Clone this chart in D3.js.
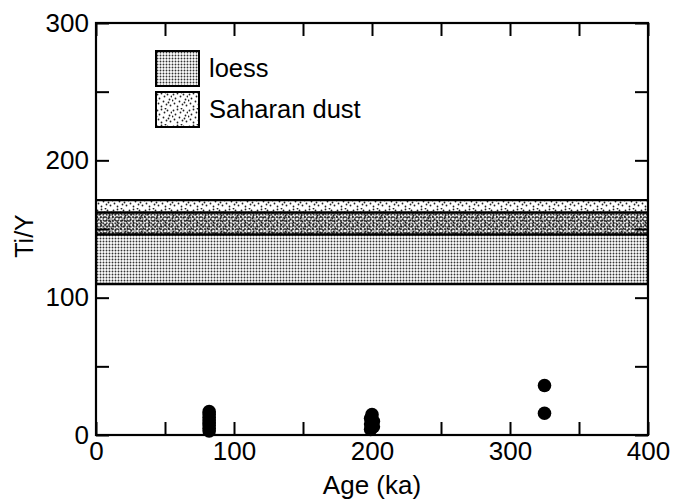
<!DOCTYPE html>
<html>
<head>
<meta charset="utf-8">
<script src="https://cdn.jsdelivr.net/npm/d3@7"></script>
<style>
  body { margin: 0; background: #fff; }
  svg { display: block; font-family: "Liberation Sans", Arial, Helvetica, sans-serif; }
</style>
</head>
<body>
<div id="chart"></div>
<script>
// ranges of Ti/Y for the two reference sources
const bandNames = ["loess", "Saharan dust"];
const bandLow = [110, 146];
const bandHigh = [162, 171];

// measured samples
const sampleAge = [82, 82, 82, 82, 82, 82, 82, 82, 199, 201, 199, 201, 199, 200, 325, 325];
const sampleTiY = [3, 5, 7, 9, 11, 13, 15, 17, 4, 6, 8, 10, 12, 14.8, 15.8, 36];

const xTicks = [0, 50, 100, 150, 200, 250, 300, 350, 400];
const yTicks = [0, 50, 100, 150, 200, 250, 300];
const xLabels = [0, 100, 200, 300, 400];
const yLabels = [0, 100, 200, 300];

const width = 686, height = 501;
const margin = { top: 23, right: 38, bottom: 66, left: 96 };

const svg = d3.select("#chart").append("svg")
    .attr("width", width)
    .attr("height", height);

const x = d3.scaleLinear().domain([0, 400]).range([margin.left, width - margin.right]);
const y = d3.scaleLinear().domain([0, 300]).range([height - margin.bottom, margin.top]);

// stipple textures
const defs = svg.append("defs");
const loessPat = defs.append("pattern")
    .attr("id", "loess")
    .attr("patternUnits", "userSpaceOnUse")
    .attr("width", 3).attr("height", 3);
loessPat.append("circle").attr("cx", 1.5).attr("cy", 1.5).attr("r", 0.95).attr("fill", "#333");

const dustDots = [[1, 2], [5, 1], [8, 4], [3, 6], [11, 2], [13, 7], [7, 9], [2, 11], [10, 12], [14, 13], [5, 14], [12, 10], [0, 8], [9, 0], [15, 4]];
const dustPat = defs.append("pattern")
    .attr("id", "dust")
    .attr("patternUnits", "userSpaceOnUse")
    .attr("width", 16).attr("height", 16);
dustPat.selectAll("circle")
    .data(dustDots)
    .join("circle")
    .attr("cx", d => d[0] + 0.5)
    .attr("cy", d => d[1] + 0.5)
    .attr("r", 0.9)
    .attr("fill", "#222");

// darker mottling where the two ranges overlap
const mixPat = defs.append("pattern")
    .attr("id", "mix")
    .attr("patternUnits", "userSpaceOnUse")
    .attr("width", 4).attr("height", 4);
mixPat.append("circle").attr("cx", 1).attr("cy", 1).attr("r", 0.9).attr("fill", "#222");
mixPat.append("circle").attr("cx", 3).attr("cy", 3).attr("r", 0.7).attr("fill", "#333");

const patterns = ["url(#loess)", "url(#dust)"];

// bands: loess first, dust laid over so the overlap reads darker
svg.selectAll(".band")
    .data(bandNames)
    .join("rect")
    .attr("class", "band")
    .attr("x", x(0))
    .attr("width", x(400) - x(0))
    .attr("y", (d, i) => y(bandHigh[i]))
    .attr("height", (d, i) => y(bandLow[i]) - y(bandHigh[i]))
    .attr("fill", (d, i) => patterns[i]);

const overlapLow = d3.max(bandLow), overlapHigh = d3.min(bandHigh);
svg.append("rect")
    .attr("x", x(0))
    .attr("width", x(400) - x(0))
    .attr("y", y(overlapHigh))
    .attr("height", y(overlapLow) - y(overlapHigh))
    .attr("fill", "url(#mix)");

// band edges
const edges = bandLow.concat(bandHigh);
svg.selectAll(".edge")
    .data(edges)
    .join("line")
    .attr("class", "edge")
    .attr("x1", x(0)).attr("x2", x(400))
    .attr("y1", d => y(d)).attr("y2", d => y(d))
    .attr("stroke", "#000")
    .attr("stroke-width", 2.4);

// axes, ticks pointing inward on all four sides
function styleAxis(g) {
    g.select(".domain").remove();
    g.selectAll(".tick line").attr("stroke", "#000").attr("stroke-width", 2);
    g.selectAll(".tick text").attr("fill", "#000").style("font-size", "26px");
}

svg.append("g")
    .attr("transform", `translate(0,${y(0)})`)
    .call(d3.axisBottom(x).tickValues(xTicks).tickSize(-13).tickPadding(7)
        .tickFormat(d => xLabels.includes(d) ? d : ""))
    .call(styleAxis);

svg.append("g")
    .attr("transform", `translate(0,${y(300)})`)
    .call(d3.axisTop(x).tickValues(xTicks).tickSize(-13).tickFormat(""))
    .call(styleAxis);

svg.append("g")
    .attr("transform", `translate(${x(0)},0)`)
    .call(d3.axisLeft(y).tickValues(yTicks).tickSize(-13).tickPadding(7)
        .tickFormat(d => yLabels.includes(d) ? d : ""))
    .call(styleAxis);

svg.append("g")
    .attr("transform", `translate(${x(400)},0)`)
    .call(d3.axisRight(y).tickValues(yTicks).tickSize(-13).tickFormat(""))
    .call(styleAxis);

// frame
svg.append("rect")
    .attr("x", x(0)).attr("y", y(300))
    .attr("width", x(400) - x(0))
    .attr("height", y(0) - y(300))
    .attr("fill", "none")
    .attr("stroke", "#000")
    .attr("stroke-width", 2.2);

// samples
svg.selectAll(".pt")
    .data(sampleAge)
    .join("circle")
    .attr("class", "pt")
    .attr("cx", d => x(d))
    .attr("cy", (d, i) => y(sampleTiY[i]))
    .attr("r", 6.8)
    .attr("fill", "#000");

// axis titles
svg.append("text")
    .attr("x", x(200))
    .attr("y", 494)
    .attr("text-anchor", "middle")
    .style("font-size", "26px")
    .text("Age (ka)");

svg.append("text")
    .attr("transform", `translate(33,236) rotate(-90)`)
    .attr("text-anchor", "middle")
    .style("font-size", "25px")
    .text("Ti/Y");

// legend
const legend = svg.append("g").attr("transform", "translate(156,51)");
const item = legend.selectAll("g")
    .data(bandNames)
    .join("g")
    .attr("transform", (d, i) => `translate(0,${i * 41})`);
item.append("rect")
    .attr("width", 43).attr("height", 35)
    .attr("fill", (d, i) => patterns[i])
    .attr("stroke", "#000")
    .attr("stroke-width", 2);
item.append("text")
    .attr("x", 53)
    .attr("y", 26)
    .style("font-size", "25.5px")
    .text(d => d);
</script>
</body>
</html>
